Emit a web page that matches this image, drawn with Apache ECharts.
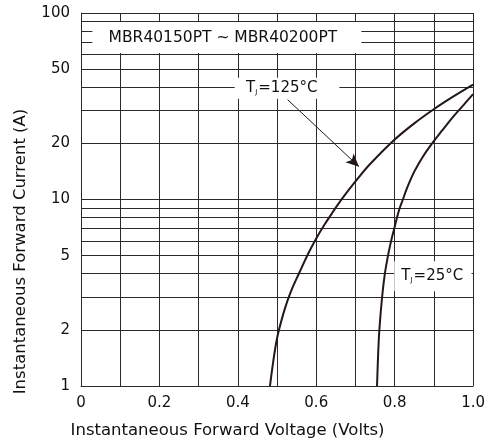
<!DOCTYPE html>
<html><head><meta charset="utf-8">
<script src="https://cdn.jsdelivr.net/npm/echarts@6/dist/echarts.min.js"></script>
<style>html,body{margin:0;padding:0;background:#fff}#c{width:488px;height:444px}</style>
</head><body><div id="c"></div>
<script>
// Forward voltage (V) and forward current (A)
const vf125 = [0.482, 0.490, 0.498, 0.505, 0.520, 0.535, 0.558, 0.580, 0.600, 0.620, 0.640, 0.666, 0.700, 0.735, 0.796, 0.850, 0.898, 0.950, 1.000];
const if125 = [1, 1.34, 1.71, 2, 2.6, 3.2, 4.1, 5.15, 6.18, 7.27, 8.43, 10.1, 12.5, 15.3, 20.6, 25.6, 30.3, 35.7, 41.3];
const vf25 = [0.755, 0.758, 0.761, 0.768, 0.775, 0.783, 0.791, 0.799, 0.806, 0.813, 0.821, 0.830, 0.840, 0.850, 0.860, 0.870, 0.880, 0.897, 0.920, 0.950, 0.975, 1.000];
const if25 = [1, 1.5, 2, 3, 4, 5, 6, 7, 8, 9, 10, 11.3, 12.7, 14.1, 15.4, 16.7, 18.0, 20.2, 23.3, 27.9, 32.0, 36.7];

// axis ticks / labels
const yLabelValues = [1, 2, 5, 10, 20, 50, 100];
const yGridValues = [1, 2, 3, 4, 5, 6, 7, 8, 9, 10, 20, 30, 40, 50, 60, 70, 80, 90, 100];
const xLabelValues = [0, 0.2, 0.4, 0.6, 0.8, 1.0];

// texts
const xName = 'Instantaneous Forward Voltage (Volts)';
const yName = 'Instantaneous Forward Current (A)';
const partLabel = 'MBR40150PT ~ MBR40200PT';
const label125 = '=125°C';
const label25 = '=25°C';

const FONT = 'DejaVu Sans';
const INK = '#231815';
const GRID = '#2a2a2a';

const chart = echarts.init(document.getElementById('c'), null, { renderer: 'canvas' });

function pairs(xs, ys) { return xs.map((x, i) => [x, ys[i]]); }

chart.setOption({
  animation: false,
  backgroundColor: '#fff',
  grid: { left: 81, right: 14, top: 13, bottom: 57, containLabel: false },
  xAxis: {
    type: 'value', min: 0, max: 1, interval: 0.1,
    axisLine: { show: true, lineStyle: { color: GRID, width: 1 } },
    axisTick: { show: false },
    splitLine: { show: true, lineStyle: { color: GRID, width: 1 } },
    axisLabel: {
      customValues: xLabelValues,
      margin: 10, color: '#111', fontFamily: FONT, fontSize: 15,
      formatter: v => (v === 0 ? '0' : v.toFixed(1))
    },
    name: xName, nameLocation: 'middle', nameGap: 36,
    nameTextStyle: { color: '#111', fontFamily: FONT, fontSize: 16.5, padding: [0, 99, 0, 0] }
  },
  yAxis: {
    type: 'log', logBase: 10, min: 1, max: 100,
    axisLine: { show: true, lineStyle: { color: GRID, width: 1 } },
    axisTick: { show: false, customValues: yGridValues },
    splitLine: { show: true, lineStyle: { color: GRID, width: 1 } },
    axisLabel: {
      customValues: yLabelValues,
      margin: 11, color: '#111', fontFamily: FONT, fontSize: 15,
      formatter: v => String(Math.round(v))
    },
    name: yName, nameLocation: 'middle', nameGap: 52,
    nameTextStyle: { color: '#111', fontFamily: FONT, fontSize: 16.5, padding: [0, 104, 0, 0] }
  },
  series: [
    {
      name: 'TJ=125°C', type: 'line', data: pairs(vf125, if125),
      showSymbol: false, smooth: 0.4, clip: true, z: 3,
      lineStyle: { color: INK, width: 2 },
      markLine: {
        silent: true, symbol: ['none', 'arrow'], symbolSize: [9, 13],
        label: { show: false },
        lineStyle: { color: INK, width: 1, type: 'solid' },
        data: [[{ coord: [0.527, 34.3] }, { coord: [0.709, 15.0] }]]
      }
    },
    {
      name: 'TJ=25°C', type: 'line', data: pairs(vf25, if25),
      showSymbol: false, smooth: 0.4, clip: true, z: 3,
      lineStyle: { color: INK, width: 2 }
    }
  ]
});

// annotation boxes (anchored in data space)
const boxes = [
  { x0: 0.029, x1: 0.715, y0: 89.5, y1: 61.1, tx: 0.362, ty: 73.5, text: partLabel, rich: false },
  { x0: 0.392, x1: 0.659, y0: 44.9, y1: 34.7, tx: 0.512, ty: 39.7, text: label125, rich: true },
  { x0: 0.799, x1: 0.996, y0: 4.66, y1: 3.22, tx: 0.896, ty: 3.88, text: label25, rich: true }
];
const gfx = [];
boxes.forEach(b => {
  const p0 = chart.convertToPixel({ gridIndex: 0 }, [b.x0, b.y0]);
  const p1 = chart.convertToPixel({ gridIndex: 0 }, [b.x1, b.y1]);
  const pt = chart.convertToPixel({ gridIndex: 0 }, [b.tx, b.ty]);
  gfx.push({
    type: 'rect', z: 1, silent: true,
    shape: { x: p0[0], y: p0[1], width: p1[0] - p0[0], height: p1[1] - p0[1] },
    style: { fill: '#fff' }
  });
  gfx.push({
    type: 'text', z: 2, silent: true, x: pt[0], y: pt[1],
    style: b.rich ? {
      text: '{m|T}{s|J}{m|' + b.text + '}',
      align: 'center', verticalAlign: 'middle',
      rich: {
        m: { fontFamily: FONT, fontSize: 15, fill: '#111' },
        s: { fontFamily: FONT, fontSize: 7, fill: '#111', verticalAlign: 'bottom', padding: [6, 1, 0, 0] }
      }
    } : {
      text: b.text, align: 'center', verticalAlign: 'middle',
      fontFamily: FONT, fontSize: 15.5, fill: '#111'
    }
  });
});
chart.setOption({ graphic: { elements: gfx } });
</script>
</body></html>
